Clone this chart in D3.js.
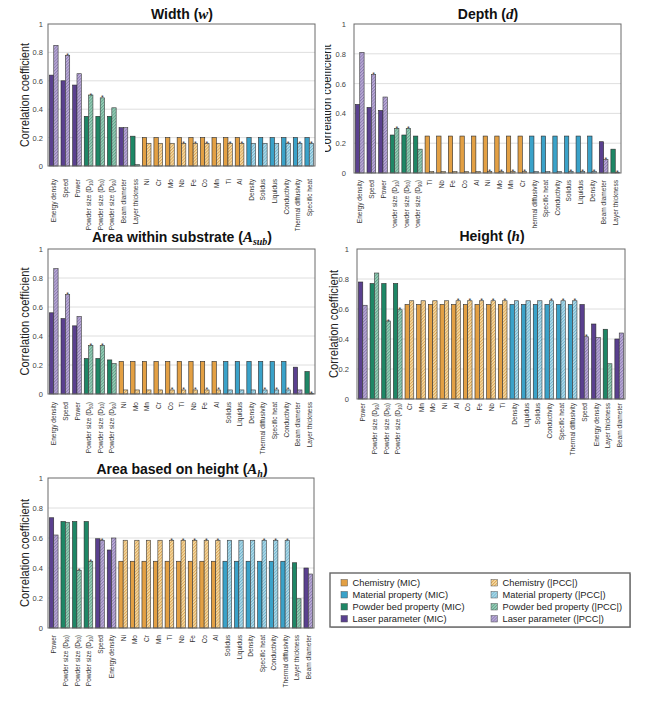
<!DOCTYPE html>
<html>
<head>
<meta charset="utf-8">
<script src="https://cdn.jsdelivr.net/npm/d3@7"></script>
<style>
  body { margin: 0; background: #fff; }
  svg { display: block; font-family: "Liberation Sans", Arial, sans-serif; }
</style>
</head>
<body>
<div id="chart"></div>
<script>
// Category groups
const chemistry = ["Ni", "Cr", "Mo", "Nb", "Fe", "Co", "Mn", "Ti", "Al"];
const material = ["Density", "Solidus", "Liquidus", "Conductivity", "Thermal diffusivity", "Specific heat"];
const powderBed = ["Powder size (D10)", "Powder size (D50)", "Powder size (D90)", "Layer thickness"];
const laser = ["Energy density", "Speed", "Power", "Beam diameter"];

// Width (w)
const widthCats = ["Energy density", "Speed", "Power", "Powder size (D10)", "Powder size (D50)", "Powder size (D90)", "Beam diameter", "Layer thickness",
  "Ni", "Cr", "Mo", "Nb", "Fe", "Co", "Mn", "Ti", "Al", "Density", "Solidus", "Liquidus", "Conductivity", "Thermal diffusivity", "Specific heat"];
const widthMIC = [0.64, 0.60, 0.57, 0.35, 0.35, 0.35, 0.27, 0.21, 0.20, 0.20, 0.20, 0.20, 0.20, 0.20, 0.20, 0.20, 0.20, 0.20, 0.20, 0.20, 0.20, 0.20, 0.20];
const widthPCC = [0.85, 0.78, 0.65, 0.50, 0.48, 0.41, 0.27, 0.01, 0.16, 0.16, 0.16, 0.16, 0.16, 0.16, 0.16, 0.16, 0.16, 0.16, 0.16, 0.16, 0.16, 0.16, 0.16];
const widthStar = ["Speed", "Powder size (D10)", "Powder size (D50)", "Nb", "Fe", "Co", "Ti", "Al", "Conductivity", "Thermal diffusivity", "Specific heat"];

// Depth (d)
const depthCats = ["Energy density", "Speed", "Power", "Powder size (D10)", "Powder size (D50)", "Powder size (D90)", "Ti", "Nb", "Fe", "Co", "Al", "Ni", "Mo", "Mn", "Cr",
  "Thermal diffusivity", "Specific heat", "Conductivity", "Solidus", "Liquidus", "Density", "Beam diameter", "Layer thickness"];
const depthMIC = [0.46, 0.44, 0.42, 0.255, 0.255, 0.248, 0.248, 0.248, 0.248, 0.248, 0.248, 0.248, 0.248, 0.248, 0.248, 0.248, 0.248, 0.248, 0.248, 0.248, 0.248, 0.21, 0.16];
const depthPCC = [0.81, 0.66, 0.51, 0.30, 0.30, 0.16, 0.01, 0.01, 0.01, 0.01, 0.01, 0.01, 0.01, 0.01, 0.01, 0.01, 0.01, 0.01, 0.01, 0.01, 0.01, 0.09, 0.005];
const depthStar = ["Speed", "Powder size (D10)", "Powder size (D50)", "Ni", "Mo", "Mn", "Cr", "Solidus", "Liquidus", "Density", "Beam diameter", "Layer thickness"];

// Area within substrate (A_sub)
const asubCats = ["Energy density", "Speed", "Power", "Powder size (D50)", "Powder size (D10)", "Powder size (D90)", "Ni", "Mo", "Mn", "Cr", "Co", "Ti", "Nb", "Fe", "Al",
  "Solidus", "Liquidus", "Density", "Thermal diffusivity", "Specific heat", "Conductivity", "Beam diameter", "Layer thickness"];
const asubMIC = [0.56, 0.52, 0.47, 0.245, 0.245, 0.235, 0.225, 0.225, 0.225, 0.225, 0.225, 0.225, 0.225, 0.225, 0.225, 0.225, 0.225, 0.225, 0.225, 0.225, 0.225, 0.185, 0.155];
const asubPCC = [0.865, 0.685, 0.535, 0.335, 0.335, 0.21, 0.028, 0.028, 0.028, 0.028, 0.028, 0.028, 0.028, 0.028, 0.028, 0.028, 0.028, 0.028, 0.028, 0.028, 0.028, 0.028, 0.005];
const asubStar = ["Speed", "Powder size (D50)", "Powder size (D10)", "Co", "Ti", "Nb", "Fe", "Al", "Thermal diffusivity", "Specific heat", "Conductivity", "Layer thickness"];

// Height (h)
const heightCats = ["Power", "Powder size (D90)", "Powder size (D50)", "Powder size (D10)", "Cr", "Mn", "Mo", "Ni", "Al", "Co", "Fe", "Nb", "Ti",
  "Density", "Liquidus", "Solidus", "Conductivity", "Specific heat", "Thermal diffusivity", "Speed", "Energy density", "Layer thickness", "Beam diameter"];
const heightMIC = [0.78, 0.77, 0.77, 0.77, 0.63, 0.63, 0.63, 0.63, 0.63, 0.63, 0.63, 0.63, 0.63, 0.63, 0.63, 0.63, 0.63, 0.63, 0.63, 0.63, 0.50, 0.465, 0.40];
const heightPCC = [0.625, 0.84, 0.52, 0.595, 0.655, 0.655, 0.655, 0.655, 0.655, 0.655, 0.655, 0.655, 0.655, 0.655, 0.655, 0.655, 0.655, 0.655, 0.655, 0.415, 0.41, 0.235, 0.44];
const heightStar = ["Powder size (D50)", "Powder size (D10)", "Al", "Co", "Fe", "Nb", "Ti", "Conductivity", "Specific heat", "Thermal diffusivity", "Speed"];

// Area based on height (A_h)
const ahCats = ["Power", "Powder size (D90)", "Powder size (D50)", "Powder size (D10)", "Speed", "Energy density", "Ni", "Mo", "Cr", "Mn", "Ti", "Nb", "Fe", "Co", "Al",
  "Solidus", "Liquidus", "Density", "Specific heat", "Conductivity", "Thermal diffusivity", "Layer thickness", "Beam diameter"];
const ahMIC = [0.735, 0.71, 0.71, 0.71, 0.595, 0.52, 0.445, 0.445, 0.445, 0.445, 0.445, 0.445, 0.445, 0.445, 0.445, 0.445, 0.445, 0.445, 0.445, 0.445, 0.445, 0.435, 0.40];
const ahPCC = [0.62, 0.705, 0.385, 0.445, 0.585, 0.60, 0.585, 0.585, 0.585, 0.585, 0.585, 0.585, 0.585, 0.585, 0.585, 0.585, 0.585, 0.585, 0.585, 0.585, 0.585, 0.195, 0.36];
const ahStar = ["Powder size (D50)", "Powder size (D10)", "Speed", "Ti", "Nb", "Fe", "Co", "Al", "Specific heat", "Conductivity", "Thermal diffusivity"];

const yTicks = [0, 0.2, 0.4, 0.6, 0.8, 1];
const legendLabels = ["Chemistry", "Material property", "Powder bed property", "Laser parameter"];

// Colours per group: solid MIC, hatched |PCC| background and hatch line
const colors = {
  chem: { mic: "#E3A044", light: "#F5DCA6", line: "#DDA352" },
  mat: { mic: "#3AA2C9", light: "#B4DCEA", line: "#6DB5CF" },
  pow: { mic: "#1E8766", light: "#9CCDB9", line: "#5EA68B" },
  las: { mic: "#5A408F", light: "#BDB0D8", line: "#8C78B3" }
};
const groupKeys = ["chem", "mat", "pow", "las"];

function groupOf(c) {
  if (chemistry.includes(c)) return "chem";
  if (material.includes(c)) return "mat";
  if (powderBed.includes(c)) return "pow";
  return "las";
}

const W = 649, H = 704;
const svg = d3.select("#chart").append("svg").attr("width", W).attr("height", H);
const defs = svg.append("defs");

// Hatch patterns
groupKeys.forEach(k => {
  const p = defs.append("pattern")
    .attr("id", "hatch-" + k)
    .attr("patternUnits", "userSpaceOnUse")
    .attr("width", 2.2).attr("height", 2.2)
    .attr("patternTransform", "rotate(45)");
  p.append("rect").attr("width", 2.2).attr("height", 2.2).attr("fill", colors[k].light);
  p.append("line").attr("x1", 0.5).attr("y1", 0).attr("x2", 0.5).attr("y2", 2.2)
    .attr("stroke", colors[k].line).attr("stroke-width", 0.9);
});

// Panel layout
const panels = [
  { id: "w", title: ["Width (", "w", null, ")"], cats: widthCats, mic: widthMIC, pcc: widthPCC, star: widthStar,
    x0: 48, x1: 315, y0: 24, y1: 166, clip: [0, 0, 325, 231], gap: 13, tx: 182, ty: 19, ytx: 29, tickX: 43, ylen: 104 },
  { id: "d", title: ["Depth (", "d", null, ")"], cats: depthCats, mic: depthMIC, pcc: depthPCC, star: depthStar,
    x0: 354, x1: 621, y0: 24, y1: 173, clip: [325, 0, 324, 228], gap: 7, tx: 488, ty: 19, ytx: 331, tickX: 346, ylen: 108 },
  { id: "as", title: ["Area within substrate (", "A", "sub", ")"], cats: asubCats, mic: asubMIC, pcc: asubPCC, star: asubStar,
    x0: 48, x1: 315, y0: 249, y1: 394, clip: [0, 229, 325, 229], gap: 8, tx: 182, ty: 242, ytx: 29, tickX: 43, ylen: 108 },
  { id: "h", title: ["Height (", "h", null, ")"], cats: heightCats, mic: heightMIC, pcc: heightPCC, star: heightStar,
    x0: 357, x1: 625, y0: 249, y1: 399, clip: [325, 228, 324, 240], gap: 4, tx: 492, ty: 241, ytx: 338, tickX: 349, ylen: 108 },
  { id: "ah", title: ["Area based on height (", "A", "h", ")"], cats: ahCats, mic: ahMIC, pcc: ahPCC, star: ahStar,
    x0: 48, x1: 314, y0: 478, y1: 628, clip: [0, 458, 325, 246], gap: 7, tx: 182, ty: 474, ytx: 29, tickX: 43, ylen: 108 }
];

function labelText(sel, c) {
  const m = c.match(/^(.*\(D)(\d+)(\))$/);
  sel.text(null);
  if (m) {
    sel.append("tspan").text(m[1]);
    sel.append("tspan").attr("font-size", "5px").attr("dy", "1.5").text(m[2]);
    sel.append("tspan").attr("dy", "-1.5").text(m[3]);
  } else {
    sel.text(c);
  }
}

panels.forEach(p => {
  defs.append("clipPath").attr("id", "clip-" + p.id)
    .append("rect").attr("x", p.clip[0]).attr("y", p.clip[1]).attr("width", p.clip[2]).attr("height", p.clip[3]);
  const g = svg.append("g").attr("clip-path", `url(#clip-${p.id})`);

  const x = d3.scaleBand().domain(p.cats).range([p.x0, p.x1]).paddingInner(0.25).paddingOuter(0.12);
  const y = d3.scaleLinear().domain([0, 1]).range([p.y1, p.y0]);

  // gridlines
  g.append("g").selectAll("line").data(yTicks.filter(t => t > 0 && t < 1)).join("line")
    .attr("x1", p.x0).attr("x2", p.x1)
    .attr("y1", d => y(d)).attr("y2", d => y(d))
    .attr("stroke", "#d6d6d6").attr("stroke-width", 0.8);

  // y axis
  const ya = g.append("g").attr("transform", `translate(${p.tickX},0)`)
    .call(d3.axisLeft(y).tickValues(yTicks).tickSize(0).tickPadding(0)
      .tickFormat(d => d === 0 ? "0" : d === 1 ? "1" : d3.format(".1f")(d)));
  ya.select(".domain").remove();
  ya.selectAll("text").attr("font-size", "7.5px").attr("fill", "#444").attr("font-family", null);

  // bars
  const bw = x.bandwidth() / 2;
  const rows = p.cats.map((c, i) => ({ c, mic: p.mic[i], pcc: p.pcc[i], k: groupOf(c), star: p.star.includes(c) }));
  g.append("g").selectAll("rect").data(rows).join("rect")
    .attr("x", d => x(d.c)).attr("width", bw)
    .attr("y", d => y(d.mic)).attr("height", d => y(0) - y(d.mic))
    .attr("fill", d => colors[d.k].mic).attr("stroke", "#2a2a2a").attr("stroke-width", 0.6);
  g.append("g").selectAll("rect").data(rows).join("rect")
    .attr("x", d => x(d.c) + bw).attr("width", bw)
    .attr("y", d => y(d.pcc)).attr("height", d => y(0) - y(d.pcc))
    .attr("fill", d => `url(#hatch-${d.k})`).attr("stroke", "#3a3a3a").attr("stroke-width", 0.6);
  g.append("g").selectAll("text").data(rows.filter(d => d.star)).join("text")
    .attr("x", d => x(d.c) + bw * 1.5).attr("y", d => y(d.pcc) + 2.5)
    .attr("text-anchor", "middle").attr("font-size", "7px").attr("fill", "#333").text("*");

  // frame
  g.append("rect").attr("x", p.x0).attr("y", p.y0).attr("width", p.x1 - p.x0).attr("height", p.y1 - p.y0)
    .attr("fill", "none").attr("stroke", "#6a6a6a").attr("stroke-width", 1);

  // x labels
  const xa = g.append("g").attr("transform", `translate(0,${p.y1})`)
    .call(d3.axisBottom(x).tickSize(0).tickPadding(0));
  xa.select(".domain").remove();
  xa.selectAll(".tick text")
    .attr("x", 0).attr("y", 0).attr("dy", "0.35em")
    .attr("transform", `translate(0,${p.gap}) rotate(-90) scale(0.86,1)`)
    .attr("text-anchor", "end").attr("font-size", "7.6px").attr("fill", "#333").attr("font-family", null)
    .each(function (c) { labelText(d3.select(this), c); });

  // y title
  g.append("text")
    .attr("transform", `translate(${p.ytx},${(p.y0 + p.y1) / 2}) rotate(-90)`)
    .attr("text-anchor", "middle").attr("font-size", "13.5px").attr("fill", "#222")
    .attr("textLength", p.ylen).attr("lengthAdjust", "spacingAndGlyphs")
    .text("Correlation coefficient");

  // title
  const t = svg.append("text").attr("x", p.tx).attr("y", p.ty).attr("text-anchor", "middle")
    .attr("font-size", "14px").attr("font-weight", "bold").attr("fill", "#111");
  t.append("tspan").text(p.title[0]);
  t.append("tspan").attr("font-family", "'Liberation Serif', 'DejaVu Serif', serif").attr("font-style", "italic")
    .attr("font-size", "15px").text(p.title[1]);
  if (p.title[2]) {
    t.append("tspan").attr("font-family", "'Liberation Serif', 'DejaVu Serif', serif").attr("font-style", "italic")
      .attr("font-size", "10px").attr("dy", "3").text(p.title[2]);
    t.append("tspan").attr("dy", "-3").text(p.title[3]);
  } else {
    t.append("tspan").text(p.title[3]);
  }
});

// Legend
const lg = svg.append("g");
lg.append("rect").attr("x", 331).attr("y", 574).attr("width", 300).attr("height", 54)
  .attr("fill", "#bbb");
lg.append("rect").attr("x", 330).attr("y", 573).attr("width", 300).attr("height", 54)
  .attr("fill", "#fff").attr("stroke", "#666").attr("stroke-width", 1.4);
const rowY = d3.scalePoint().domain(groupKeys).range([583, 619]);
const colX = d3.scalePoint().domain(["mic", "pcc"]).range([341, 491]);
groupKeys.forEach((k, i) => {
  ["mic", "pcc"].forEach(kind => {
    lg.append("rect").attr("x", colX(kind)).attr("y", rowY(k) - 3.5).attr("width", 6.5).attr("height", 6.5)
      .attr("fill", kind === "mic" ? colors[k].mic : `url(#hatch-${k})`)
      .attr("stroke", "#555").attr("stroke-width", 0.5);
    lg.append("text").attr("x", colX(kind) + 11.5).attr("y", rowY(k) + 3.2)
      .attr("font-size", "9.3px").attr("fill", "#222")
      .text(`${legendLabels[i]} (${kind === "mic" ? "MIC" : "|PCC|"})`);
  });
});
</script>
</body>
</html>
